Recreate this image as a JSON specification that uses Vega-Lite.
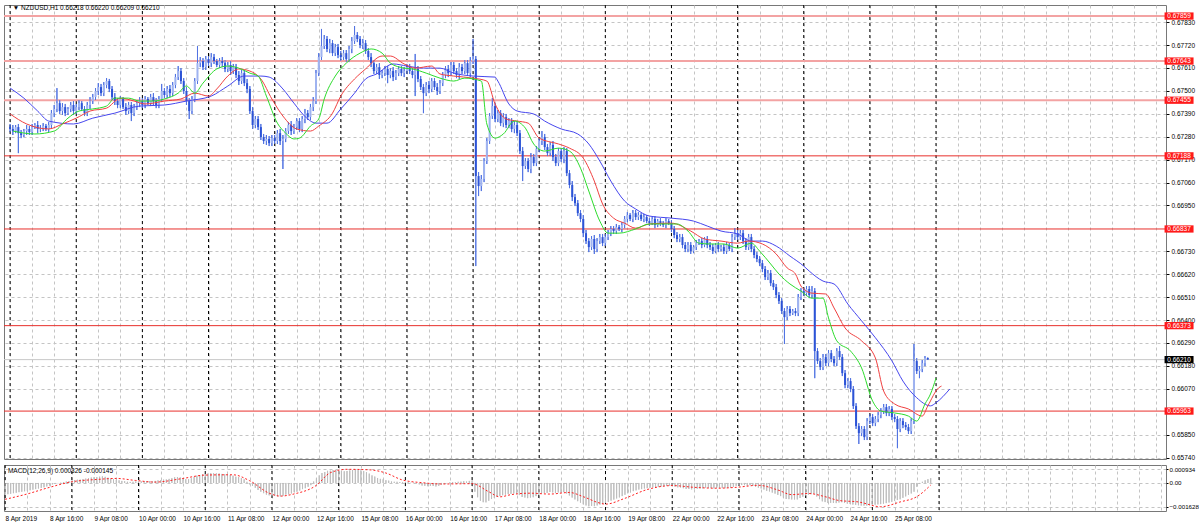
{
"$schema": "https://vega.github.io/schema/vega-lite/v6.json",
"background": "#ffffff",
"padding": {"left": 2, "top": 4, "right": 0, "bottom": 0},
"spacing": 2,
"config": {
  "view": {"stroke": "#787878", "strokeWidth": 1},
  "axis": {"labelFont": "Liberation Sans", "labelFontSize": 6.5, "labelColor": "#000000", "tickColor": "#000000", "domain": false},
  "text": {"font": "Liberation Sans"}
},
"datasets": {
"bars": [
{"i":0,"o":0.67326,"h":0.67341,"l":0.67302,"c":0.67317,"m":-0.0008},
{"i":1,"o":0.67317,"h":0.67336,"l":0.67288,"c":0.67307,"m":-0.00077},
{"i":2,"o":0.67307,"h":0.67336,"l":0.67297,"c":0.67326,"m":-0.00074},
{"i":3,"o":0.67326,"h":0.67341,"l":0.67201,"c":0.67297,"m":-0.0007},
{"i":4,"o":0.67297,"h":0.67312,"l":0.67273,"c":0.67288,"m":-0.00067},
{"i":5,"o":0.67288,"h":0.67317,"l":0.67278,"c":0.67307,"m":-0.00063},
{"i":6,"o":0.67307,"h":0.67336,"l":0.67288,"c":0.67317,"m":-0.0006},
{"i":7,"o":0.67317,"h":0.67331,"l":0.67288,"c":0.67302,"m":-0.00057},
{"i":8,"o":0.67302,"h":0.67341,"l":0.67288,"c":0.67326,"m":-0.00053},
{"i":9,"o":0.67326,"h":0.67345,"l":0.67317,"c":0.67336,"m":-0.0005},
{"i":10,"o":0.67336,"h":0.67355,"l":0.67297,"c":0.67317,"m":-0.00046},
{"i":11,"o":0.67317,"h":0.67336,"l":0.67302,"c":0.67321,"m":-0.00042},
{"i":12,"o":0.67321,"h":0.67345,"l":0.67307,"c":0.67331,"m":-0.00038},
{"i":13,"o":0.67331,"h":0.67341,"l":0.67307,"c":0.67317,"m":-0.00034},
{"i":14,"o":0.67317,"h":0.6735,"l":0.67302,"c":0.67336,"m":-0.0003},
{"i":15,"o":0.67336,"h":0.67408,"l":0.67321,"c":0.67393,"m":-0.00024},
{"i":16,"o":0.67393,"h":0.67432,"l":0.67374,"c":0.67413,"m":-0.00018},
{"i":17,"o":0.67413,"h":0.67513,"l":0.67398,"c":0.67441,"m":-0.0001},
{"i":18,"o":0.67441,"h":0.67456,"l":0.67389,"c":0.67403,"m":-0.00006},
{"i":19,"o":0.67403,"h":0.67441,"l":0.67384,"c":0.67422,"m":-0.00002},
{"i":20,"o":0.67422,"h":0.67437,"l":0.67379,"c":0.67393,"m":0.00002},
{"i":21,"o":0.67393,"h":0.67422,"l":0.67384,"c":0.67413,"m":0.00006},
{"i":22,"o":0.67413,"h":0.67446,"l":0.67398,"c":0.67432,"m":0.0001},
{"i":23,"o":0.67432,"h":0.67451,"l":0.67384,"c":0.67403,"m":0.00013},
{"i":24,"o":0.67403,"h":0.67437,"l":0.67389,"c":0.67422,"m":0.00016},
{"i":25,"o":0.67422,"h":0.67456,"l":0.67408,"c":0.67441,"m":0.0002},
{"i":26,"o":0.67441,"h":0.67451,"l":0.67403,"c":0.67413,"m":0.00022},
{"i":27,"o":0.67413,"h":0.67427,"l":0.67379,"c":0.67393,"m":0.00023},
{"i":28,"o":0.67393,"h":0.67446,"l":0.67379,"c":0.67432,"m":0.00026},
{"i":29,"o":0.67432,"h":0.6747,"l":0.67413,"c":0.67451,"m":0.0003},
{"i":30,"o":0.67451,"h":0.67485,"l":0.67437,"c":0.6747,"m":0.00033},
{"i":31,"o":0.6747,"h":0.67513,"l":0.67456,"c":0.67499,"m":0.00037},
{"i":32,"o":0.67499,"h":0.67537,"l":0.6748,"c":0.67518,"m":0.0004},
{"i":33,"o":0.67518,"h":0.67533,"l":0.67475,"c":0.67489,"m":0.0004},
{"i":34,"o":0.67489,"h":0.67542,"l":0.67475,"c":0.67528,"m":0.00043},
{"i":35,"o":0.67528,"h":0.67561,"l":0.67513,"c":0.67547,"m":0.00045},
{"i":36,"o":0.67547,"h":0.67557,"l":0.67494,"c":0.67509,"m":0.00042},
{"i":37,"o":0.67509,"h":0.67523,"l":0.67456,"c":0.6747,"m":0.00036},
{"i":38,"o":0.6747,"h":0.67489,"l":0.67432,"c":0.67451,"m":0.0003},
{"i":39,"o":0.67451,"h":0.67465,"l":0.67417,"c":0.67432,"m":0.00025},
{"i":40,"o":0.67432,"h":0.67475,"l":0.67417,"c":0.67461,"m":0.00022},
{"i":41,"o":0.67461,"h":0.6747,"l":0.67413,"c":0.67422,"m":0.00018},
{"i":42,"o":0.67422,"h":0.67441,"l":0.67384,"c":0.67403,"m":0.00014},
{"i":43,"o":0.67403,"h":0.67446,"l":0.67389,"c":0.67432,"m":0.00012},
{"i":44,"o":0.67432,"h":0.67446,"l":0.67355,"c":0.67393,"m":0.00008},
{"i":45,"o":0.67393,"h":0.67437,"l":0.67379,"c":0.67422,"m":0.00007},
{"i":46,"o":0.67422,"h":0.67456,"l":0.67408,"c":0.67441,"m":0.00008},
{"i":47,"o":0.67441,"h":0.6747,"l":0.67422,"c":0.67451,"m":0.0001},
{"i":48,"o":0.67451,"h":0.67465,"l":0.67417,"c":0.67432,"m":0.0001},
{"i":49,"o":0.67432,"h":0.67475,"l":0.67417,"c":0.67461,"m":0.00011},
{"i":50,"o":0.67461,"h":0.6747,"l":0.67432,"c":0.67441,"m":0.00011},
{"i":51,"o":0.67441,"h":0.67485,"l":0.67427,"c":0.6747,"m":0.00013},
{"i":52,"o":0.6747,"h":0.67489,"l":0.67432,"c":0.67451,"m":0.00013},
{"i":53,"o":0.67451,"h":0.67465,"l":0.67417,"c":0.67432,"m":0.00012},
{"i":54,"o":0.67432,"h":0.67475,"l":0.67417,"c":0.67461,"m":0.00014},
{"i":55,"o":0.67461,"h":0.67533,"l":0.67446,"c":0.67499,"m":0.00018},
{"i":56,"o":0.67499,"h":0.67513,"l":0.67465,"c":0.6748,"m":0.0002},
{"i":57,"o":0.6748,"h":0.67523,"l":0.67465,"c":0.67509,"m":0.00023},
{"i":58,"o":0.67509,"h":0.67528,"l":0.6747,"c":0.67489,"m":0.00024},
{"i":59,"o":0.67489,"h":0.67542,"l":0.67475,"c":0.67528,"m":0.00028},
{"i":60,"o":0.67528,"h":0.67581,"l":0.67513,"c":0.67566,"m":0.00033},
{"i":61,"o":0.67566,"h":0.67619,"l":0.67552,"c":0.67595,"m":0.00039},
{"i":62,"o":0.67595,"h":0.67609,"l":0.67533,"c":0.67547,"m":0.0004},
{"i":63,"o":0.67547,"h":0.67561,"l":0.67485,"c":0.67499,"m":0.00038},
{"i":64,"o":0.67499,"h":0.67518,"l":0.67432,"c":0.67451,"m":0.00033},
{"i":65,"o":0.67451,"h":0.67465,"l":0.67365,"c":0.67403,"m":0.00026},
{"i":66,"o":0.67403,"h":0.67475,"l":0.67389,"c":0.67461,"m":0.00026},
{"i":67,"o":0.67461,"h":0.67561,"l":0.67446,"c":0.67547,"m":0.00032},
{"i":68,"o":0.67547,"h":0.67715,"l":0.67533,"c":0.67633,"m":0.00042},
{"i":69,"o":0.67633,"h":0.67662,"l":0.67614,"c":0.67643,"m":0.0005},
{"i":70,"o":0.67643,"h":0.67657,"l":0.676,"c":0.67614,"m":0.00054},
{"i":71,"o":0.67614,"h":0.67667,"l":0.676,"c":0.67653,"m":0.0006},
{"i":72,"o":0.67653,"h":0.67667,"l":0.67619,"c":0.67633,"m":0.00062},
{"i":73,"o":0.67633,"h":0.67681,"l":0.67614,"c":0.67662,"m":0.00066},
{"i":74,"o":0.67662,"h":0.67677,"l":0.67629,"c":0.67643,"m":0.00067},
{"i":75,"o":0.67643,"h":0.67653,"l":0.67614,"c":0.67624,"m":0.00066},
{"i":76,"o":0.67624,"h":0.67657,"l":0.67609,"c":0.67643,"m":0.00066},
{"i":77,"o":0.67643,"h":0.67662,"l":0.67614,"c":0.67633,"m":0.00065},
{"i":78,"o":0.67633,"h":0.67648,"l":0.6759,"c":0.67605,"m":0.00062},
{"i":79,"o":0.67605,"h":0.67638,"l":0.6759,"c":0.67624,"m":0.00061},
{"i":80,"o":0.67624,"h":0.67643,"l":0.67576,"c":0.67595,"m":0.00057},
{"i":81,"o":0.67595,"h":0.67629,"l":0.67581,"c":0.67614,"m":0.00055},
{"i":82,"o":0.67614,"h":0.67629,"l":0.67561,"c":0.67576,"m":0.0005},
{"i":83,"o":0.67576,"h":0.67595,"l":0.67528,"c":0.67547,"m":0.00043},
{"i":84,"o":0.67547,"h":0.676,"l":0.67533,"c":0.67585,"m":0.0004},
{"i":85,"o":0.67585,"h":0.676,"l":0.67523,"c":0.67537,"m":0.00033},
{"i":86,"o":0.67537,"h":0.67557,"l":0.67489,"c":0.67509,"m":0.00025},
{"i":87,"o":0.67509,"h":0.67523,"l":0.67389,"c":0.67403,"m":0.00008},
{"i":88,"o":0.67403,"h":0.67422,"l":0.67317,"c":0.67336,"m":-0.0001},
{"i":89,"o":0.67336,"h":0.67379,"l":0.67321,"c":0.67365,"m":-0.0002},
{"i":90,"o":0.67365,"h":0.67379,"l":0.67312,"c":0.67326,"m":-0.00033},
{"i":91,"o":0.67326,"h":0.67341,"l":0.67264,"c":0.67278,"m":-0.00048},
{"i":92,"o":0.67278,"h":0.67293,"l":0.67245,"c":0.67259,"m":-0.0006},
{"i":93,"o":0.67259,"h":0.67288,"l":0.6724,"c":0.67269,"m":-0.0007},
{"i":94,"o":0.67269,"h":0.67283,"l":0.67235,"c":0.67249,"m":-0.0008},
{"i":95,"o":0.67249,"h":0.67288,"l":0.67235,"c":0.67273,"m":-0.00085},
{"i":96,"o":0.67273,"h":0.67288,"l":0.67245,"c":0.67259,"m":-0.0009},
{"i":97,"o":0.67259,"h":0.67312,"l":0.67245,"c":0.67297,"m":-0.00088},
{"i":98,"o":0.67297,"h":0.67317,"l":0.6724,"c":0.67259,"m":-0.00092},
{"i":99,"o":0.67259,"h":0.67288,"l":0.67125,"c":0.67269,"m":-0.00092},
{"i":100,"o":0.67269,"h":0.67321,"l":0.67254,"c":0.67307,"m":-0.00088},
{"i":101,"o":0.67307,"h":0.6735,"l":0.67293,"c":0.67336,"m":-0.0008},
{"i":102,"o":0.67336,"h":0.67355,"l":0.67288,"c":0.67307,"m":-0.00078},
{"i":103,"o":0.67307,"h":0.67341,"l":0.67293,"c":0.67326,"m":-0.00072},
{"i":104,"o":0.67326,"h":0.67369,"l":0.67312,"c":0.67355,"m":-0.00063},
{"i":105,"o":0.67355,"h":0.67369,"l":0.67302,"c":0.67317,"m":-0.0006},
{"i":106,"o":0.67317,"h":0.67379,"l":0.67302,"c":0.67365,"m":-0.00052},
{"i":107,"o":0.67365,"h":0.67413,"l":0.67345,"c":0.67393,"m":-0.00042},
{"i":108,"o":0.67393,"h":0.67408,"l":0.6736,"c":0.67374,"m":-0.00036},
{"i":109,"o":0.67374,"h":0.67437,"l":0.6736,"c":0.67422,"m":-0.00026},
{"i":110,"o":0.67422,"h":0.6747,"l":0.67403,"c":0.67451,"m":-0.00015},
{"i":111,"o":0.67451,"h":0.676,"l":0.67437,"c":0.67585,"m":0.0001},
{"i":112,"o":0.67585,"h":0.67681,"l":0.67571,"c":0.67662,"m":0.00032},
{"i":113,"o":0.67662,"h":0.67797,"l":0.67648,"c":0.67715,"m":0.00052},
{"i":114,"o":0.67715,"h":0.67768,"l":0.67701,"c":0.67749,"m":0.00068},
{"i":115,"o":0.67749,"h":0.67763,"l":0.67686,"c":0.67701,"m":0.00075},
{"i":116,"o":0.67701,"h":0.67749,"l":0.67681,"c":0.67729,"m":0.00083},
{"i":117,"o":0.67729,"h":0.67744,"l":0.67667,"c":0.67681,"m":0.00084},
{"i":118,"o":0.67681,"h":0.67725,"l":0.67667,"c":0.6771,"m":0.00088},
{"i":119,"o":0.6771,"h":0.67725,"l":0.67657,"c":0.67672,"m":0.00087},
{"i":120,"o":0.67672,"h":0.67691,"l":0.67643,"c":0.67662,"m":0.00084},
{"i":121,"o":0.67662,"h":0.67696,"l":0.67648,"c":0.67681,"m":0.00084},
{"i":122,"o":0.67681,"h":0.67696,"l":0.67638,"c":0.67653,"m":0.0008},
{"i":123,"o":0.67653,"h":0.67715,"l":0.67638,"c":0.67701,"m":0.00082},
{"i":124,"o":0.67701,"h":0.67758,"l":0.67681,"c":0.67739,"m":0.00086},
{"i":125,"o":0.67739,"h":0.67811,"l":0.67725,"c":0.67768,"m":0.00089},
{"i":126,"o":0.67768,"h":0.67782,"l":0.67734,"c":0.67749,"m":0.0009},
{"i":127,"o":0.67749,"h":0.67763,"l":0.67705,"c":0.6772,"m":0.00088},
{"i":128,"o":0.6772,"h":0.67749,"l":0.67701,"c":0.67729,"m":0.00086},
{"i":129,"o":0.67729,"h":0.67744,"l":0.67677,"c":0.67691,"m":0.00081},
{"i":130,"o":0.67691,"h":0.67705,"l":0.67648,"c":0.67662,"m":0.00074},
{"i":131,"o":0.67662,"h":0.67681,"l":0.67614,"c":0.67633,"m":0.00064},
{"i":132,"o":0.67633,"h":0.67648,"l":0.67581,"c":0.67595,"m":0.00052},
{"i":133,"o":0.67595,"h":0.67629,"l":0.67581,"c":0.67614,"m":0.00044},
{"i":134,"o":0.67614,"h":0.67633,"l":0.67557,"c":0.67576,"m":0.00034},
{"i":135,"o":0.67576,"h":0.676,"l":0.67561,"c":0.67585,"m":0.00028},
{"i":136,"o":0.67585,"h":0.67619,"l":0.67571,"c":0.67605,"m":0.00025},
{"i":137,"o":0.67605,"h":0.67619,"l":0.67537,"c":0.67576,"m":0.00019},
{"i":138,"o":0.67576,"h":0.67609,"l":0.67561,"c":0.67595,"m":0.00016},
{"i":139,"o":0.67595,"h":0.67614,"l":0.67547,"c":0.67566,"m":0.0001},
{"i":140,"o":0.67566,"h":0.676,"l":0.67552,"c":0.67585,"m":0.00008},
{"i":141,"o":0.67585,"h":0.67619,"l":0.67571,"c":0.67605,"m":0.00008},
{"i":142,"o":0.67605,"h":0.67619,"l":0.67571,"c":0.67585,"m":0.00006},
{"i":143,"o":0.67585,"h":0.67614,"l":0.67566,"c":0.67595,"m":0.00005},
{"i":144,"o":0.67595,"h":0.67629,"l":0.67581,"c":0.67614,"m":0.00006},
{"i":145,"o":0.67614,"h":0.67629,"l":0.67581,"c":0.67595,"m":0.00005},
{"i":146,"o":0.67595,"h":0.67609,"l":0.67561,"c":0.67576,"m":0.00002},
{"i":147,"o":0.67576,"h":0.67677,"l":0.67475,"c":0.67605,"m":0.00003},
{"i":148,"o":0.67605,"h":0.67619,"l":0.67542,"c":0.67557,"m":-0.00003},
{"i":149,"o":0.67557,"h":0.67571,"l":0.67504,"c":0.67518,"m":-0.0001},
{"i":150,"o":0.67518,"h":0.67533,"l":0.67393,"c":0.67489,"m":-0.00018},
{"i":151,"o":0.67489,"h":0.67542,"l":0.67475,"c":0.67528,"m":-0.0002},
{"i":152,"o":0.67528,"h":0.67547,"l":0.67489,"c":0.67509,"m":-0.00022},
{"i":153,"o":0.67509,"h":0.67561,"l":0.67494,"c":0.67547,"m":-0.0002},
{"i":154,"o":0.67547,"h":0.67561,"l":0.67504,"c":0.67518,"m":-0.00021},
{"i":155,"o":0.67518,"h":0.67537,"l":0.6748,"c":0.67499,"m":-0.00024},
{"i":156,"o":0.67499,"h":0.67552,"l":0.67485,"c":0.67537,"m":-0.0002},
{"i":157,"o":0.67537,"h":0.6759,"l":0.67523,"c":0.67576,"m":-0.00012},
{"i":158,"o":0.67576,"h":0.67619,"l":0.67561,"c":0.67605,"m":-0.00004},
{"i":159,"o":0.67605,"h":0.67624,"l":0.67566,"c":0.67585,"m":-0.00001},
{"i":160,"o":0.67585,"h":0.67638,"l":0.67571,"c":0.67624,"m":0.00005},
{"i":161,"o":0.67624,"h":0.67638,"l":0.67581,"c":0.67595,"m":0.00006},
{"i":162,"o":0.67595,"h":0.67609,"l":0.67561,"c":0.67576,"m":0.00005},
{"i":163,"o":0.67576,"h":0.67633,"l":0.67557,"c":0.67614,"m":0.00008},
{"i":164,"o":0.67614,"h":0.67629,"l":0.67581,"c":0.67595,"m":0.00009},
{"i":165,"o":0.67595,"h":0.67648,"l":0.67581,"c":0.67633,"m":0.00012},
{"i":166,"o":0.67633,"h":0.67648,"l":0.67571,"c":0.67585,"m":0.0001},
{"i":167,"o":0.67585,"h":0.67662,"l":0.67566,"c":0.67643,"m":0.00014},
{"i":168,"o":0.67643,"h":0.67749,"l":0.67629,"c":0.67653,"m":0.00017},
{"i":169,"o":0.67653,"h":0.67667,"l":0.66659,"c":0.67091,"m":-0.0006},
{"i":170,"o":0.67091,"h":0.6711,"l":0.66995,"c":0.67043,"m":-0.00098},
{"i":171,"o":0.67043,"h":0.67096,"l":0.67019,"c":0.67077,"m":-0.00122},
{"i":172,"o":0.67077,"h":0.67177,"l":0.67062,"c":0.67163,"m":-0.00132},
{"i":173,"o":0.67163,"h":0.67273,"l":0.67149,"c":0.67259,"m":-0.00133},
{"i":174,"o":0.67259,"h":0.67393,"l":0.67245,"c":0.67379,"m":-0.00122},
{"i":175,"o":0.67379,"h":0.67465,"l":0.67365,"c":0.67427,"m":-0.0011},
{"i":176,"o":0.67427,"h":0.67441,"l":0.6735,"c":0.67365,"m":-0.00102},
{"i":177,"o":0.67365,"h":0.67408,"l":0.6735,"c":0.67393,"m":-0.00095},
{"i":178,"o":0.67393,"h":0.67408,"l":0.67331,"c":0.67345,"m":-0.0009},
{"i":179,"o":0.67345,"h":0.67393,"l":0.67326,"c":0.67374,"m":-0.00084},
{"i":180,"o":0.67374,"h":0.67389,"l":0.67321,"c":0.67336,"m":-0.0008},
{"i":181,"o":0.67336,"h":0.67369,"l":0.67321,"c":0.67355,"m":-0.00076},
{"i":182,"o":0.67355,"h":0.67369,"l":0.67302,"c":0.67317,"m":-0.00075},
{"i":183,"o":0.67317,"h":0.67355,"l":0.67297,"c":0.67336,"m":-0.00072},
{"i":184,"o":0.67336,"h":0.6735,"l":0.67283,"c":0.67297,"m":-0.00073},
{"i":185,"o":0.67297,"h":0.67312,"l":0.67197,"c":0.67211,"m":-0.00083},
{"i":186,"o":0.67211,"h":0.6723,"l":0.67067,"c":0.67139,"m":-0.00096},
{"i":187,"o":0.67139,"h":0.67177,"l":0.67125,"c":0.67163,"m":-0.001},
{"i":188,"o":0.67163,"h":0.67177,"l":0.6711,"c":0.67125,"m":-0.00104},
{"i":189,"o":0.67125,"h":0.67201,"l":0.67105,"c":0.67182,"m":-0.001},
{"i":190,"o":0.67182,"h":0.67197,"l":0.67139,"c":0.67153,"m":-0.00098},
{"i":191,"o":0.67153,"h":0.67235,"l":0.67139,"c":0.67221,"m":-0.0009},
{"i":192,"o":0.67221,"h":0.67273,"l":0.67206,"c":0.67259,"m":-0.0008},
{"i":193,"o":0.67259,"h":0.67307,"l":0.6724,"c":0.67278,"m":-0.0007},
{"i":194,"o":0.67278,"h":0.67293,"l":0.67216,"c":0.6723,"m":-0.00068},
{"i":195,"o":0.6723,"h":0.67245,"l":0.67187,"c":0.67201,"m":-0.00068},
{"i":196,"o":0.67201,"h":0.67254,"l":0.67187,"c":0.6724,"m":-0.00062},
{"i":197,"o":0.6724,"h":0.67259,"l":0.67163,"c":0.67182,"m":-0.00065},
{"i":198,"o":0.67182,"h":0.67197,"l":0.67139,"c":0.67153,"m":-0.00069},
{"i":199,"o":0.67153,"h":0.67225,"l":0.67139,"c":0.67211,"m":-0.00065},
{"i":200,"o":0.67211,"h":0.67225,"l":0.67158,"c":0.67173,"m":-0.00066},
{"i":201,"o":0.67173,"h":0.6723,"l":0.67153,"c":0.67211,"m":-0.00062},
{"i":202,"o":0.67211,"h":0.67225,"l":0.67091,"c":0.67105,"m":-0.00072},
{"i":203,"o":0.67105,"h":0.6712,"l":0.67033,"c":0.67048,"m":-0.00086},
{"i":204,"o":0.67048,"h":0.67067,"l":0.66971,"c":0.6699,"m":-0.001},
{"i":205,"o":0.6699,"h":0.67005,"l":0.66947,"c":0.66961,"m":-0.00113},
{"i":206,"o":0.66961,"h":0.66976,"l":0.66899,"c":0.66913,"m":-0.00125},
{"i":207,"o":0.66913,"h":0.66928,"l":0.6687,"c":0.66885,"m":-0.00135},
{"i":208,"o":0.66885,"h":0.66904,"l":0.66798,"c":0.66817,"m":-0.00146},
{"i":209,"o":0.66817,"h":0.66832,"l":0.66765,"c":0.66779,"m":-0.00154},
{"i":210,"o":0.66779,"h":0.66793,"l":0.66726,"c":0.6675,"m":-0.0016},
{"i":211,"o":0.6675,"h":0.66803,"l":0.66736,"c":0.66789,"m":-0.00157},
{"i":212,"o":0.66789,"h":0.66808,"l":0.66717,"c":0.66741,"m":-0.00159},
{"i":213,"o":0.66741,"h":0.66793,"l":0.66726,"c":0.66779,"m":-0.00154},
{"i":214,"o":0.66779,"h":0.66813,"l":0.66765,"c":0.66798,"m":-0.00148},
{"i":215,"o":0.66798,"h":0.66813,"l":0.66755,"c":0.66769,"m":-0.00145},
{"i":216,"o":0.66769,"h":0.66813,"l":0.66755,"c":0.66798,"m":-0.00137},
{"i":217,"o":0.66798,"h":0.66832,"l":0.66784,"c":0.66817,"m":-0.0013},
{"i":218,"o":0.66817,"h":0.66851,"l":0.66803,"c":0.66837,"m":-0.00121},
{"i":219,"o":0.66837,"h":0.66851,"l":0.66813,"c":0.66827,"m":-0.00114},
{"i":220,"o":0.66827,"h":0.66861,"l":0.66813,"c":0.66846,"m":-0.00106},
{"i":221,"o":0.66846,"h":0.66856,"l":0.66827,"c":0.66837,"m":-0.00099},
{"i":222,"o":0.66837,"h":0.6687,"l":0.66822,"c":0.66856,"m":-0.0009},
{"i":223,"o":0.66856,"h":0.66899,"l":0.66841,"c":0.66885,"m":-0.00081},
{"i":224,"o":0.66885,"h":0.66918,"l":0.6687,"c":0.66904,"m":-0.00071},
{"i":225,"o":0.66904,"h":0.66913,"l":0.66875,"c":0.66885,"m":-0.00065},
{"i":226,"o":0.66885,"h":0.66928,"l":0.6687,"c":0.66913,"m":-0.00056},
{"i":227,"o":0.66913,"h":0.66928,"l":0.6688,"c":0.66894,"m":-0.00051},
{"i":228,"o":0.66894,"h":0.66918,"l":0.6688,"c":0.66904,"m":-0.00045},
{"i":229,"o":0.66904,"h":0.66913,"l":0.66875,"c":0.66885,"m":-0.00042},
{"i":230,"o":0.66885,"h":0.66909,"l":0.6687,"c":0.66894,"m":-0.00038},
{"i":231,"o":0.66894,"h":0.66904,"l":0.66865,"c":0.66875,"m":-0.00036},
{"i":232,"o":0.66875,"h":0.66889,"l":0.66851,"c":0.66865,"m":-0.00034},
{"i":233,"o":0.66865,"h":0.66894,"l":0.66856,"c":0.66885,"m":-0.0003},
{"i":234,"o":0.66885,"h":0.66899,"l":0.66841,"c":0.66856,"m":-0.0003},
{"i":235,"o":0.66856,"h":0.66885,"l":0.66846,"c":0.66875,"m":-0.00027},
{"i":236,"o":0.66875,"h":0.66889,"l":0.66851,"c":0.66865,"m":-0.00025},
{"i":237,"o":0.66865,"h":0.66875,"l":0.66846,"c":0.66856,"m":-0.00024},
{"i":238,"o":0.66856,"h":0.66889,"l":0.66841,"c":0.66875,"m":-0.00021},
{"i":239,"o":0.66875,"h":0.66885,"l":0.66856,"c":0.66865,"m":-0.0002},
{"i":240,"o":0.66865,"h":0.6688,"l":0.66822,"c":0.66837,"m":-0.00021},
{"i":241,"o":0.66837,"h":0.66851,"l":0.66793,"c":0.66808,"m":-0.00025},
{"i":242,"o":0.66808,"h":0.66822,"l":0.66774,"c":0.66789,"m":-0.0003},
{"i":243,"o":0.66789,"h":0.66813,"l":0.66774,"c":0.66798,"m":-0.00031},
{"i":244,"o":0.66798,"h":0.66813,"l":0.66745,"c":0.6676,"m":-0.00036},
{"i":245,"o":0.6676,"h":0.66774,"l":0.66726,"c":0.66741,"m":-0.00041},
{"i":246,"o":0.66741,"h":0.66774,"l":0.66726,"c":0.6676,"m":-0.00041},
{"i":247,"o":0.6676,"h":0.66774,"l":0.66717,"c":0.66731,"m":-0.00044},
{"i":248,"o":0.66731,"h":0.6676,"l":0.66721,"c":0.6675,"m":-0.00043},
{"i":249,"o":0.6675,"h":0.66784,"l":0.66736,"c":0.66769,"m":-0.0004},
{"i":250,"o":0.66769,"h":0.66789,"l":0.6676,"c":0.66779,"m":-0.00037},
{"i":251,"o":0.66779,"h":0.66793,"l":0.66745,"c":0.6676,"m":-0.00037},
{"i":252,"o":0.6676,"h":0.66798,"l":0.6675,"c":0.66789,"m":-0.00033},
{"i":253,"o":0.66789,"h":0.66803,"l":0.66745,"c":0.6676,"m":-0.00034},
{"i":254,"o":0.6676,"h":0.66774,"l":0.66736,"c":0.6675,"m":-0.00035},
{"i":255,"o":0.6675,"h":0.66765,"l":0.66717,"c":0.66731,"m":-0.00037},
{"i":256,"o":0.66731,"h":0.66769,"l":0.66721,"c":0.6676,"m":-0.00034},
{"i":257,"o":0.6676,"h":0.66774,"l":0.66726,"c":0.66741,"m":-0.00035},
{"i":258,"o":0.66741,"h":0.6676,"l":0.66731,"c":0.6675,"m":-0.00034},
{"i":259,"o":0.6675,"h":0.66765,"l":0.66717,"c":0.66731,"m":-0.00036},
{"i":260,"o":0.66731,"h":0.66774,"l":0.66717,"c":0.6676,"m":-0.00033},
{"i":261,"o":0.6676,"h":0.66769,"l":0.66731,"c":0.66741,"m":-0.00034},
{"i":262,"o":0.66741,"h":0.66813,"l":0.66726,"c":0.66798,"m":-0.00027},
{"i":263,"o":0.66798,"h":0.66841,"l":0.66784,"c":0.66817,"m":-0.0002},
{"i":264,"o":0.66817,"h":0.66832,"l":0.66784,"c":0.66798,"m":-0.00018},
{"i":265,"o":0.66798,"h":0.66832,"l":0.66784,"c":0.66817,"m":-0.00014},
{"i":266,"o":0.66817,"h":0.66832,"l":0.66765,"c":0.66779,"m":-0.00015},
{"i":267,"o":0.66779,"h":0.66793,"l":0.66736,"c":0.6675,"m":-0.00019},
{"i":268,"o":0.6675,"h":0.66813,"l":0.66736,"c":0.66798,"m":-0.00015},
{"i":269,"o":0.66798,"h":0.66813,"l":0.66726,"c":0.66741,"m":-0.0002},
{"i":270,"o":0.66741,"h":0.66755,"l":0.66697,"c":0.66712,"m":-0.00026},
{"i":271,"o":0.66712,"h":0.66726,"l":0.66678,"c":0.66693,"m":-0.00032},
{"i":272,"o":0.66693,"h":0.66707,"l":0.66659,"c":0.66673,"m":-0.00038},
{"i":273,"o":0.66673,"h":0.66688,"l":0.6663,"c":0.66645,"m":-0.00045},
{"i":274,"o":0.66645,"h":0.66659,"l":0.66592,"c":0.66606,"m":-0.00054},
{"i":275,"o":0.66606,"h":0.6664,"l":0.66592,"c":0.66625,"m":-0.00058},
{"i":276,"o":0.66625,"h":0.6664,"l":0.66563,"c":0.66577,"m":-0.00066},
{"i":277,"o":0.66577,"h":0.66592,"l":0.66544,"c":0.66558,"m":-0.00073},
{"i":278,"o":0.66558,"h":0.66573,"l":0.66505,"c":0.6652,"m":-0.00082},
{"i":279,"o":0.6652,"h":0.66534,"l":0.66477,"c":0.66491,"m":-0.0009},
{"i":280,"o":0.66491,"h":0.66505,"l":0.66429,"c":0.66443,"m":-0.00101},
{"i":281,"o":0.66443,"h":0.66457,"l":0.66285,"c":0.66414,"m":-0.0011},
{"i":282,"o":0.66414,"h":0.66467,"l":0.664,"c":0.66453,"m":-0.00111},
{"i":283,"o":0.66453,"h":0.66467,"l":0.66419,"c":0.66433,"m":-0.00113},
{"i":284,"o":0.66433,"h":0.66453,"l":0.66424,"c":0.66443,"m":-0.00113},
{"i":285,"o":0.66443,"h":0.66457,"l":0.66419,"c":0.66433,"m":-0.00113},
{"i":286,"o":0.66433,"h":0.66525,"l":0.66419,"c":0.6651,"m":-0.00103},
{"i":287,"o":0.6651,"h":0.66553,"l":0.66496,"c":0.66539,"m":-0.00094},
{"i":288,"o":0.66539,"h":0.66553,"l":0.66515,"c":0.66529,"m":-0.00087},
{"i":289,"o":0.66529,"h":0.66563,"l":0.66515,"c":0.66549,"m":-0.0008},
{"i":290,"o":0.66549,"h":0.66563,"l":0.66505,"c":0.6652,"m":-0.00077},
{"i":291,"o":0.6652,"h":0.66563,"l":0.66505,"c":0.66539,"m":-0.00072},
{"i":292,"o":0.66539,"h":0.66553,"l":0.66121,"c":0.66251,"m":-0.00093},
{"i":293,"o":0.66251,"h":0.66265,"l":0.66189,"c":0.66203,"m":-0.00111},
{"i":294,"o":0.66203,"h":0.66217,"l":0.6616,"c":0.66174,"m":-0.00126},
{"i":295,"o":0.66174,"h":0.66237,"l":0.6616,"c":0.66222,"m":-0.00131},
{"i":296,"o":0.66222,"h":0.66237,"l":0.66179,"c":0.66193,"m":-0.00137},
{"i":297,"o":0.66193,"h":0.66256,"l":0.66179,"c":0.66241,"m":-0.00136},
{"i":298,"o":0.66241,"h":0.66256,"l":0.66198,"c":0.66213,"m":-0.00137},
{"i":299,"o":0.66213,"h":0.66227,"l":0.66179,"c":0.66193,"m":-0.00138},
{"i":300,"o":0.66193,"h":0.66265,"l":0.66179,"c":0.66251,"m":-0.00134},
{"i":301,"o":0.66251,"h":0.66275,"l":0.66208,"c":0.66222,"m":-0.00132},
{"i":302,"o":0.66222,"h":0.66237,"l":0.66131,"c":0.66145,"m":-0.00136},
{"i":303,"o":0.66145,"h":0.6616,"l":0.66073,"c":0.66088,"m":-0.00142},
{"i":304,"o":0.66088,"h":0.66121,"l":0.66073,"c":0.66107,"m":-0.00144},
{"i":305,"o":0.66107,"h":0.66121,"l":0.66054,"c":0.66069,"m":-0.00148},
{"i":306,"o":0.66069,"h":0.66083,"l":0.65973,"c":0.65987,"m":-0.0015},
{"i":307,"o":0.65987,"h":0.66001,"l":0.65877,"c":0.65891,"m":-0.00153},
{"i":308,"o":0.65891,"h":0.65905,"l":0.65805,"c":0.65857,"m":-0.00155},
{"i":309,"o":0.65857,"h":0.65891,"l":0.65843,"c":0.65877,"m":-0.00155},
{"i":310,"o":0.65877,"h":0.65891,"l":0.65824,"c":0.65838,"m":-0.00155},
{"i":311,"o":0.65838,"h":0.65929,"l":0.65824,"c":0.65915,"m":-0.00153},
{"i":312,"o":0.65915,"h":0.65949,"l":0.65901,"c":0.65934,"m":-0.0015},
{"i":313,"o":0.65934,"h":0.65949,"l":0.65891,"c":0.65905,"m":-0.00149},
{"i":314,"o":0.65905,"h":0.65939,"l":0.65891,"c":0.65925,"m":-0.00147},
{"i":315,"o":0.65925,"h":0.65958,"l":0.6591,"c":0.65944,"m":-0.00145},
{"i":316,"o":0.65944,"h":0.65977,"l":0.65929,"c":0.65963,"m":-0.00142},
{"i":317,"o":0.65963,"h":0.65997,"l":0.65949,"c":0.65982,"m":-0.00138},
{"i":318,"o":0.65982,"h":0.65997,"l":0.65939,"c":0.65953,"m":-0.00134},
{"i":319,"o":0.65953,"h":0.65987,"l":0.65939,"c":0.65973,"m":-0.00129},
{"i":320,"o":0.65973,"h":0.65987,"l":0.6592,"c":0.65934,"m":-0.00124},
{"i":321,"o":0.65934,"h":0.65949,"l":0.6591,"c":0.65925,"m":-0.00117},
{"i":322,"o":0.65925,"h":0.65939,"l":0.65785,"c":0.65877,"m":-0.00112},
{"i":323,"o":0.65877,"h":0.65929,"l":0.65862,"c":0.65915,"m":-0.00102},
{"i":324,"o":0.65915,"h":0.65929,"l":0.65881,"c":0.65896,"m":-0.00092},
{"i":325,"o":0.65896,"h":0.6591,"l":0.65872,"c":0.65886,"m":-0.00082},
{"i":326,"o":0.65886,"h":0.65901,"l":0.65853,"c":0.65867,"m":-0.00072},
{"i":327,"o":0.65867,"h":0.65929,"l":0.65853,"c":0.65915,"m":-0.0006},
{"i":328,"o":0.65915,"h":0.66285,"l":0.65901,"c":0.66203,"m":-0.00026},
{"i":329,"o":0.66203,"h":0.66217,"l":0.66141,"c":0.66155,"m":-0.00006},
{"i":330,"o":0.66155,"h":0.66179,"l":0.66121,"c":0.66165,"m":0.00008},
{"i":331,"o":0.66165,"h":0.66208,"l":0.6615,"c":0.66193,"m":0.00018},
{"i":332,"o":0.66193,"h":0.66227,"l":0.66179,"c":0.66218,"m":0.00026},
{"i":333,"o":0.66218,"h":0.6622,"l":0.66209,"c":0.6621,"m":0.000326}
],
"jaw": [
{"i":0,"p":0.67513},{"i":5,"p":0.67465},{"i":10,"p":0.67403},{"i":14,"p":0.67355},{"i":23,"p":0.67341},{"i":30,"p":0.67369},{"i":38,"p":0.67393},{"i":47,"p":0.67427},{"i":56,"p":0.67432},{"i":64,"p":0.67451},{"i":73,"p":0.67475},{"i":79,"p":0.67523},{"i":85,"p":0.67571},{"i":91,"p":0.67571},{"i":94,"p":0.67566},{"i":99,"p":0.67509},{"i":103,"p":0.67441},{"i":108,"p":0.67365},{"i":111,"p":0.67345},{"i":115,"p":0.67345},{"i":120,"p":0.67413},{"i":125,"p":0.67489},{"i":129,"p":0.67557},{"i":133,"p":0.67581},{"i":139,"p":0.67629},{"i":144,"p":0.67619},{"i":150,"p":0.67609},{"i":156,"p":0.67609},{"i":161,"p":0.67585},{"i":168,"p":0.67571},{"i":176,"p":0.67566},{"i":177,"p":0.67547},{"i":181,"p":0.67437},{"i":184,"p":0.67403},{"i":190,"p":0.67389},{"i":194,"p":0.67355},{"i":200,"p":0.67317},{"i":206,"p":0.67293},{"i":210,"p":0.67245},{"i":214,"p":0.67163},{"i":218,"p":0.67067},{"i":223,"p":0.66971},{"i":227,"p":0.66933},{"i":232,"p":0.66899},{"i":240,"p":0.66889},{"i":248,"p":0.66875},{"i":253,"p":0.66851},{"i":258,"p":0.66827},{"i":264,"p":0.66813},{"i":269,"p":0.66779},{"i":273,"p":0.66779},{"i":278,"p":0.66755},{"i":283,"p":0.66707},{"i":288,"p":0.66659},{"i":290,"p":0.66635},{"i":295,"p":0.66587},{"i":299,"p":0.66573},{"i":304,"p":0.66477},{"i":309,"p":0.66396},{"i":314,"p":0.66315},{"i":320,"p":0.66204},{"i":324,"p":0.66107},{"i":329,"p":0.66027},{"i":334,"p":0.65988},{"i":336,"p":0.66003},{"i":341,"p":0.66069}
],
"teeth": [
{"i":0,"p":0.67389},{"i":6,"p":0.67341},{"i":14,"p":0.67317},{"i":19,"p":0.67341},{"i":24,"p":0.67369},{"i":29,"p":0.67403},{"i":35,"p":0.67417},{"i":40,"p":0.67465},{"i":45,"p":0.67451},{"i":49,"p":0.67437},{"i":56,"p":0.67451},{"i":62,"p":0.67461},{"i":67,"p":0.67489},{"i":72,"p":0.67475},{"i":75,"p":0.67509},{"i":79,"p":0.67571},{"i":83,"p":0.67605},{"i":87,"p":0.67595},{"i":91,"p":0.67557},{"i":95,"p":0.67461},{"i":99,"p":0.67379},{"i":104,"p":0.67317},{"i":109,"p":0.67307},{"i":112,"p":0.67331},{"i":117,"p":0.67393},{"i":120,"p":0.67475},{"i":125,"p":0.67557},{"i":129,"p":0.67605},{"i":135,"p":0.67667},{"i":138,"p":0.67667},{"i":143,"p":0.67629},{"i":147,"p":0.67609},{"i":153,"p":0.67619},{"i":156,"p":0.67581},{"i":161,"p":0.67571},{"i":168,"p":0.67561},{"i":173,"p":0.67547},{"i":176,"p":0.67437},{"i":180,"p":0.67365},{"i":184,"p":0.67355},{"i":188,"p":0.67345},{"i":192,"p":0.67273},{"i":199,"p":0.67245},{"i":203,"p":0.67225},{"i":208,"p":0.67177},{"i":212,"p":0.67067},{"i":215,"p":0.66957},{"i":219,"p":0.66889},{"i":223,"p":0.66865},{"i":227,"p":0.66841},{"i":232,"p":0.66861},{"i":240,"p":0.66865},{"i":247,"p":0.66827},{"i":252,"p":0.66789},{"i":258,"p":0.66779},{"i":264,"p":0.66769},{"i":268,"p":0.66779},{"i":273,"p":0.66765},{"i":278,"p":0.66717},{"i":282,"p":0.6665},{"i":285,"p":0.66621},{"i":287,"p":0.66563},{"i":291,"p":0.66529},{"i":296,"p":0.66525},{"i":299,"p":0.66458},{"i":303,"p":0.66362},{"i":309,"p":0.663},{"i":314,"p":0.66218},{"i":317,"p":0.66059},{"i":321,"p":0.65997},{"i":326,"p":0.65973},{"i":331,"p":0.65939},{"i":333,"p":0.65987},{"i":337,"p":0.66075},{"i":338,"p":0.66083}
],
"lips": [
{"i":1,"p":0.67307},{"i":9,"p":0.67293},{"i":16,"p":0.67307},{"i":21,"p":0.67369},{"i":25,"p":0.67403},{"i":30,"p":0.67413},{"i":35,"p":0.67427},{"i":38,"p":0.67465},{"i":43,"p":0.67465},{"i":47,"p":0.67451},{"i":52,"p":0.67451},{"i":56,"p":0.67461},{"i":61,"p":0.67489},{"i":64,"p":0.67523},{"i":67,"p":0.67489},{"i":70,"p":0.67537},{"i":75,"p":0.67605},{"i":79,"p":0.67619},{"i":83,"p":0.67609},{"i":87,"p":0.67585},{"i":90,"p":0.67571},{"i":93,"p":0.67475},{"i":97,"p":0.67345},{"i":100,"p":0.67297},{"i":103,"p":0.67269},{"i":105,"p":0.67273},{"i":109,"p":0.67331},{"i":112,"p":0.67365},{"i":114,"p":0.67461},{"i":118,"p":0.67571},{"i":122,"p":0.67633},{"i":127,"p":0.67681},{"i":131,"p":0.67701},{"i":135,"p":0.67681},{"i":138,"p":0.67633},{"i":143,"p":0.67609},{"i":146,"p":0.67605},{"i":151,"p":0.67585},{"i":156,"p":0.67561},{"i":161,"p":0.67547},{"i":165,"p":0.67561},{"i":171,"p":0.67547},{"i":173,"p":0.67341},{"i":176,"p":0.67273},{"i":179,"p":0.67293},{"i":183,"p":0.67355},{"i":187,"p":0.67321},{"i":190,"p":0.67245},{"i":194,"p":0.67211},{"i":199,"p":0.67225},{"i":203,"p":0.67211},{"i":207,"p":0.67129},{"i":210,"p":0.67019},{"i":214,"p":0.66875},{"i":217,"p":0.66817},{"i":221,"p":0.66817},{"i":227,"p":0.66837},{"i":232,"p":0.66861},{"i":237,"p":0.66861},{"i":242,"p":0.66861},{"i":246,"p":0.66827},{"i":250,"p":0.66769},{"i":254,"p":0.66765},{"i":259,"p":0.66765},{"i":264,"p":0.66745},{"i":269,"p":0.66769},{"i":272,"p":0.66731},{"i":276,"p":0.66669},{"i":279,"p":0.66621},{"i":283,"p":0.66573},{"i":287,"p":0.66539},{"i":291,"p":0.66505},{"i":295,"p":0.66505},{"i":297,"p":0.6641},{"i":300,"p":0.663},{"i":305,"p":0.66251},{"i":309,"p":0.6617},{"i":313,"p":0.66011},{"i":316,"p":0.65963},{"i":321,"p":0.65954},{"i":326,"p":0.65939},{"i":329,"p":0.65915},{"i":332,"p":0.65997},{"i":334,"p":0.66045},{"i":336,"p":0.66121}
],
"sig": [
{"i":0,"v":-0.00112},{"i":8,"v":-0.00075},{"i":16,"v":-0.0003},{"i":24,"v":0.00008},{"i":33,"v":0.00024},{"i":40,"v":0.00031},{"i":47,"v":0.00017},{"i":54,"v":0.00006},{"i":64,"v":0.00031},{"i":72,"v":0.00054},{"i":82,"v":0.00056},{"i":88,"v":0.00015},{"i":95,"v":-0.0007},{"i":99,"v":-0.0009},{"i":104,"v":-0.00075},{"i":112,"v":-0.00016},{"i":117,"v":0.0007},{"i":123,"v":0.000934},{"i":131,"v":0.0009},{"i":137,"v":0.00068},{"i":143,"v":0.0002},{"i":150,"v":0.00002},{"i":157,"v":-0.00007},{"i":168,"v":-0.00005},{"i":174,"v":-0.0006},{"i":178,"v":-0.00095},{"i":182,"v":-0.0008},{"i":189,"v":-0.0007},{"i":196,"v":-0.00076},{"i":203,"v":-0.00065},{"i":208,"v":-0.00094},{"i":214,"v":-0.00138},{"i":216,"v":-0.00145},{"i":223,"v":-0.00105},{"i":231,"v":-0.00045},{"i":240,"v":-0.00018},{"i":248,"v":-0.0003},{"i":256,"v":-0.00036},{"i":263,"v":-0.0003},{"i":271,"v":-0.00016},{"i":278,"v":-0.00048},{"i":283,"v":-0.0008},{"i":289,"v":-0.00072},{"i":295,"v":-0.00094},{"i":300,"v":-0.0012},{"i":307,"v":-0.0013},{"i":315,"v":-0.001628},{"i":322,"v":-0.0013},{"i":328,"v":-0.00094},{"i":333,"v":-0.000145}
],
"days": [
{"i":0},{"i":24},{"i":48},{"i":72},{"i":96},{"i":120},{"i":144},{"i":168},{"i":192},{"i":216},{"i":240},{"i":264},{"i":288},{"i":312},{"i":336}
],
"lv": [
{"p":0.67859,"k":"a"},{"p":0.67643,"k":"a"},{"p":0.67455,"k":"a"},{"p":0.67188,"k":"b"},{"p":0.66837,"k":"b"},{"p":0.66373,"k":"b"},{"p":0.65963,"k":"b"}
],
"cur": [{"p":0.6621}],
"hdr": [{"t":"▼ NZDUSD,H1  0.66218 0.66220 0.66209 0.66210"}],
"mhdr": [{"t":"MACD(12,26,9) 0.000326 -0.000145"}]
},
"vconcat": [
{
 "width": 1162,
 "height": 454,
 "resolve": {"axis": {"x": "independent", "y": "independent"}},
 "layer": [
  {"data": {"name": "bars"}, "mark": {"type": "rule", "color": "#5274e2", "strokeWidth": 1},
   "encoding": {
    "x": {"field": "i", "type": "quantitative", "scale": {"domain": [-0.4, 417.65], "nice": false, "zero": false},
     "axis": {"orient": "bottom", "title": null, "labels": false, "ticks": false, "grid": true,
      "values": [0,8,16,24,32,40,48,56,64,72,80,88,96,104,112,120,128,136,144,152,160,168,176,184,192,200,208,216,224,232,240,248,256,264,272,280,288,296,304,312,320,328,336,344,352,360,368,376,384,392,400,408,416],
      "gridDash": [3, 3], "gridColor": "#c4c4c4"}},
    "y": {"field": "l", "type": "quantitative", "scale": {"domain": [0.65733, 0.67912], "nice": false, "zero": false},
     "axis": {"orient": "right", "title": null, "values": [0.6574,0.6585,0.6607,0.6618,0.6629,0.664,0.6651,0.6662,0.6673,0.6695,0.6706,0.6717,0.6728,0.6739,0.675,0.6761,0.6772,0.6783],
      "format": ".5f", "grid": true, "gridDash": [3, 3], "gridColor": "#c4c4c4", "ticks": true, "tickSize": 3, "labelPadding": 2, "labelOverlap": false}},
    "y2": {"field": "h"}
   }},
  {"data": {"name": "days"}, "mark": {"type": "rule", "color": "#000000", "strokeWidth": 1, "strokeDash": [3, 3]},
   "encoding": {
    "x": {"field": "i", "type": "quantitative", "scale": {"domain": [-0.4, 417.65], "nice": false, "zero": false}, "axis": null}
   }},
  {"data": {"name": "lv"}, "mark": {"type": "rule"},
   "encoding": {
    "y": {"field": "p", "type": "quantitative", "scale": {"domain": [0.65733, 0.67912], "nice": false, "zero": false}, "axis": null},
    "color": {"condition": {"test": "datum.k === 'a'", "value": "#f3a3a3"}, "value": "#e8302c"},
    "strokeWidth": {"condition": {"test": "datum.k === 'a'", "value": 2}, "value": 1}
   }},
  {"data": {"name": "cur"}, "mark": {"type": "rule", "color": "#c8c8c8", "strokeWidth": 1},
   "encoding": {"y": {"field": "p", "type": "quantitative", "scale": {"domain": [0.65733, 0.67912], "nice": false, "zero": false}, "axis": null}}},
  {"data": {"name": "bars"}, "mark": {"type": "rule", "color": "#5274e2", "strokeWidth": 1},
   "encoding": {
    "x": {"field": "i", "type": "quantitative", "scale": {"domain": [-0.4, 417.65], "nice": false, "zero": false}, "axis": null},
    "y": {"field": "l", "type": "quantitative", "scale": {"domain": [0.65733, 0.67912], "nice": false, "zero": false}, "axis": null},
    "y2": {"field": "h"}
   }},
  {"data": {"name": "bars"}, "mark": {"type": "bar", "size": 2},
   "encoding": {
    "x": {"field": "i", "type": "quantitative", "scale": {"domain": [-0.4, 417.65], "nice": false, "zero": false}, "axis": null},
    "y": {"field": "o", "type": "quantitative", "scale": {"domain": [0.65733, 0.67912], "nice": false, "zero": false}, "axis": null},
    "y2": {"field": "c"},
    "color": {"condition": {"test": "datum.c > datum.o", "value": "#9fb3f0"}, "value": "#2c53d6"}
   }},
  {"data": {"name": "jaw"}, "mark": {"type": "line", "color": "#4646ee", "strokeWidth": 1, "interpolate": "monotone"},
   "encoding": {
    "x": {"field": "i", "type": "quantitative", "scale": {"domain": [-0.4, 417.65], "nice": false, "zero": false}, "axis": null},
    "y": {"field": "p", "type": "quantitative", "scale": {"domain": [0.65733, 0.67912], "nice": false, "zero": false}, "axis": null}
   }},
  {"data": {"name": "teeth"}, "mark": {"type": "line", "color": "#f04040", "strokeWidth": 1, "interpolate": "monotone"},
   "encoding": {
    "x": {"field": "i", "type": "quantitative", "scale": {"domain": [-0.4, 417.65], "nice": false, "zero": false}, "axis": null},
    "y": {"field": "p", "type": "quantitative", "scale": {"domain": [0.65733, 0.67912], "nice": false, "zero": false}, "axis": null}
   }},
  {"data": {"name": "lips"}, "mark": {"type": "line", "color": "#2cdc2c", "strokeWidth": 1, "interpolate": "monotone"},
   "encoding": {
    "x": {"field": "i", "type": "quantitative", "scale": {"domain": [-0.4, 417.65], "nice": false, "zero": false}, "axis": null},
    "y": {"field": "p", "type": "quantitative", "scale": {"domain": [0.65733, 0.67912], "nice": false, "zero": false}, "axis": null}
   }},
  {"data": {"name": "lv"}, "mark": {"type": "point", "shape": "M-1,-0.25H1V0.25H-1Z", "filled": true, "size": 841, "color": "#ff1a1a", "opacity": 1, "strokeWidth": 0},
   "encoding": {
    "x": {"datum": 424.2, "type": "quantitative", "scale": {"domain": [-0.4, 417.65], "nice": false, "zero": false}, "axis": null},
    "y": {"field": "p", "type": "quantitative", "scale": {"domain": [0.65733, 0.67912], "nice": false, "zero": false}, "axis": null}
   }},
  {"data": {"name": "lv"}, "mark": {"type": "text", "color": "#ffffff", "fontSize": 6.5, "align": "center", "baseline": "middle", "font": "Liberation Sans"},
   "encoding": {
    "x": {"datum": 424.2, "type": "quantitative", "scale": {"domain": [-0.4, 417.65], "nice": false, "zero": false}, "axis": null},
    "y": {"field": "p", "type": "quantitative", "scale": {"domain": [0.65733, 0.67912], "nice": false, "zero": false}, "axis": null},
    "text": {"field": "p", "type": "quantitative", "format": ".5f"}
   }},
  {"data": {"name": "cur"}, "mark": {"type": "point", "shape": "M-1,-0.25H1V0.25H-1Z", "filled": true, "size": 841, "color": "#000000", "opacity": 1, "strokeWidth": 0},
   "encoding": {
    "x": {"datum": 424.2, "type": "quantitative", "scale": {"domain": [-0.4, 417.65], "nice": false, "zero": false}, "axis": null},
    "y": {"field": "p", "type": "quantitative", "scale": {"domain": [0.65733, 0.67912], "nice": false, "zero": false}, "axis": null}
   }},
  {"data": {"name": "cur"}, "mark": {"type": "text", "color": "#ffffff", "fontSize": 6.5, "align": "center", "baseline": "middle", "font": "Liberation Sans"},
   "encoding": {
    "x": {"datum": 424.2, "type": "quantitative", "scale": {"domain": [-0.4, 417.65], "nice": false, "zero": false}, "axis": null},
    "y": {"field": "p", "type": "quantitative", "scale": {"domain": [0.65733, 0.67912], "nice": false, "zero": false}, "axis": null},
    "text": {"field": "p", "type": "quantitative", "format": ".5f"}
   }},
  {"data": {"name": "hdr"}, "mark": {"type": "text", "color": "#000000", "fontSize": 6.5, "align": "left", "baseline": "middle", "font": "Liberation Sans"},
   "encoding": {
    "x": {"datum": 1.0, "type": "quantitative", "scale": {"domain": [-0.4, 417.65], "nice": false, "zero": false}, "axis": null},
    "y": {"datum": 0.67897, "type": "quantitative", "scale": {"domain": [0.65733, 0.67912], "nice": false, "zero": false}, "axis": null},
    "text": {"field": "t", "type": "nominal"}
   }}
 ]
},
{
 "width": 1162,
 "height": 46,
 "resolve": {"axis": {"x": "independent", "y": "independent"}},
 "layer": [
  {"data": {"name": "bars"}, "mark": {"type": "rule", "color": "#bdbdbd", "strokeWidth": 1},
   "encoding": {
    "x": {"field": "i", "type": "quantitative", "scale": {"domain": [-0.4, 417.65], "nice": false, "zero": false},
     "axis": {"orient": "bottom", "title": null, "grid": true, "ticks": false,
      "values": [0,8,16,24,32,40,48,56,64,72,80,88,96,104,112,120,128,136,144,152,160,168,176,184,192,200,208,216,224,232,240,248,256,264,272,280,288,296,304,312,320,328,336,344,352,360,368,376,384,392,400,408,416],
      "gridDash": [3, 3], "gridColor": "#c4c4c4",
      "labelAlign": "left", "labelBaseline": "top", "labelPadding": 4, "labelOverlap": false, "labelFlush": false, "labelBound": false,
      "labelExpr": "datum.value % 16 !== 0 || datum.value > 320 ? '' : datum.value === 0 ? '8 Apr 2019' : ['8 Apr','9 Apr','10 Apr','11 Apr','12 Apr','15 Apr','16 Apr','17 Apr','18 Apr','19 Apr','22 Apr','23 Apr','24 Apr','25 Apr'][floor(datum.value / 24)] + ' ' + (datum.value % 24 < 10 ? '0' : '') + (datum.value % 24) + ':00'"}},
    "y": {"field": "m", "type": "quantitative", "scale": {"domain": [-0.00192, 0.00123], "nice": false, "zero": false},
     "axis": {"orient": "right", "title": null, "values": [-0.001628, 0, 0.000934], "grid": true, "gridDash": [3, 3], "gridColor": "#c4c4c4", "ticks": true, "tickSize": 2, "labelPadding": 1, "labelOverlap": false, "labelFontSize": 6.2,
      "labelExpr": "datum.value === 0 ? '0.00' : format(datum.value, '.6f')"}},
    "y2": {"datum": 0}
   }},
  {"data": {"name": "days"}, "mark": {"type": "rule", "color": "#000000", "strokeWidth": 1, "strokeDash": [3, 3]},
   "encoding": {
    "x": {"field": "i", "type": "quantitative", "scale": {"domain": [-0.4, 417.65], "nice": false, "zero": false}, "axis": null}
   }},
  {"data": {"name": "bars"}, "mark": {"type": "rule", "color": "#bdbdbd", "strokeWidth": 1},
   "encoding": {
    "x": {"field": "i", "type": "quantitative", "scale": {"domain": [-0.4, 417.65], "nice": false, "zero": false}, "axis": null},
    "y": {"field": "m", "type": "quantitative", "scale": {"domain": [-0.00192, 0.00123], "nice": false, "zero": false}, "axis": null},
    "y2": {"datum": 0}
   }},
  {"data": {"name": "sig"}, "mark": {"type": "line", "color": "#ff2020", "strokeWidth": 1, "strokeDash": [2, 2], "interpolate": "monotone"},
   "encoding": {
    "x": {"field": "i", "type": "quantitative", "scale": {"domain": [-0.4, 417.65], "nice": false, "zero": false}, "axis": null},
    "y": {"field": "v", "type": "quantitative", "scale": {"domain": [-0.00192, 0.00123], "nice": false, "zero": false}, "axis": null}
   }},
  {"data": {"name": "mhdr"}, "mark": {"type": "text", "color": "#000000", "fontSize": 6.5, "align": "left", "baseline": "middle", "font": "Liberation Sans"},
   "encoding": {
    "x": {"datum": 1.0, "type": "quantitative", "scale": {"domain": [-0.4, 417.65], "nice": false, "zero": false}, "axis": null},
    "y": {"datum": 0.00082, "type": "quantitative", "scale": {"domain": [-0.00192, 0.00123], "nice": false, "zero": false}, "axis": null},
    "text": {"field": "t", "type": "nominal"}
   }}
 ]
}
]
}
